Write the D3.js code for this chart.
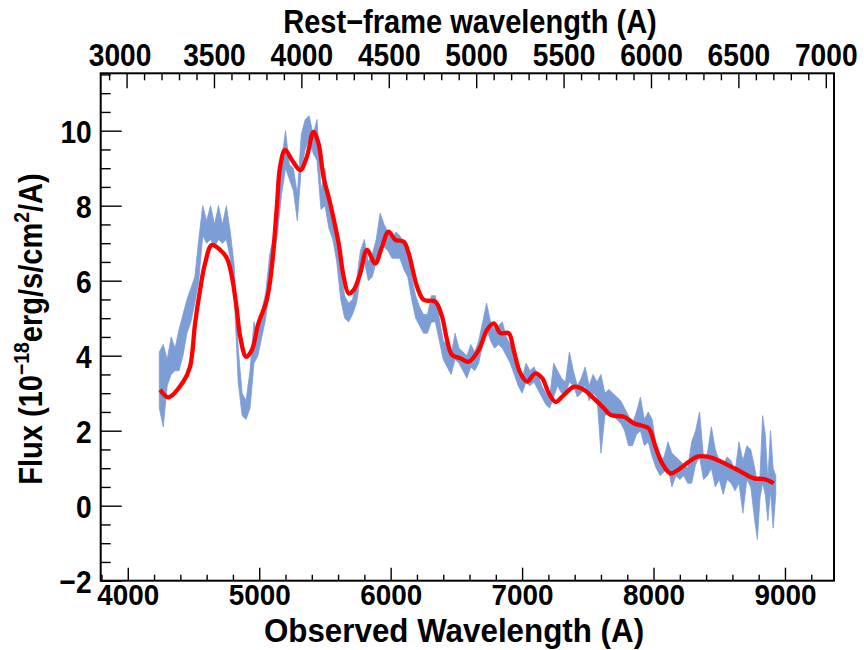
<!DOCTYPE html>
<html><head><meta charset="utf-8">
<script src="https://cdn.jsdelivr.net/npm/d3@7"></script>
<style>
html,body{margin:0;padding:0;background:#fff;}
text{font-family:"Liberation Sans",Arial,Helvetica,sans-serif;font-weight:bold;fill:#000;}
</style></head>
<body>
<svg id="c" width="864" height="650"></svg>
<script>
// ---- data ----
const xTitle = "Observed Wavelength (A)";
const topTitle = "Rest\u2212frame wavelength (A)";
const xTicks = [4000,5000,6000,7000,8000,9000];
const topTicks = [3000,3500,4000,4500,5000,5500,6000,6500,7000];
const yTicks = [-2,0,2,4,6,8,10];

// observed spectrum band (wavelength, lower edge, upper edge)
const bandWl = [4240,4270,4300,4330,4360,4390,4420,4450,4480,4510,4540,4570,4600,4630,4660,4690,4720,4750,4780,4810,4840,4870,4900,4930,4960,4990,5020,5050,5080,5110,5140,5170,5200,5230,5260,5290,5320,5350,5380,5410,5440,5470,5500,5530,5560,5590,5620,5650,5680,5710,5740,5770,5800,5830,5860,5890,5920,5950,5980,6010,6040,6070,6100,6130,6160,6190,6220,6250,6280,6310,6340,6370,6400,6430,6460,6490,6520,6550,6580,6610,6640,6670,6700,6730,6760,6790,6820,6850,6880,6910,6940,6970,7000,7030,7060,7090,7120,7150,7180,7210,7240,7270,7300,7330,7360,7390,7420,7450,7480,7510,7540,7570,7600,7630,7660,7690,7720,7750,7780,7810,7840,7870,7900,7930,7960,7990,8020,8050,8080,8110,8140,8170,8200,8230,8260,8290,8320,8350,8380,8410,8440,8470,8500,8530,8560,8590,8620,8650,8680,8710,8740,8770,8790,8810,8830,8850,8870,8890,8910,8930];
const bandHi = [4.1,4.3,3.9,4.5,4.2,4.7,5.1,5.5,5.8,6.1,7.1,8.0,7.6,8.0,7.5,8.0,7.5,8.0,7.3,6.4,4.2,3.0,2.8,3.6,4.9,4.5,5.2,5.7,6.7,7.2,8.4,9.2,10.0,9.1,9.0,8.3,9.9,10.3,10.4,9.9,10.3,8.4,9.0,8.0,7.8,7.2,6.2,5.6,5.4,5.5,6.0,6.8,7.1,6.5,6.7,7.1,7.8,7.5,7.3,7.1,7.3,7.2,7.0,6.8,6.1,5.6,5.3,5.1,5.1,5.6,5.6,5.0,4.4,4.3,4.0,4.6,4.2,4.1,4.0,4.3,4.1,4.4,4.9,5.4,4.9,4.7,4.8,4.9,4.5,4.3,3.9,3.5,3.4,3.8,3.6,3.7,3.5,3.2,3.0,2.9,3.8,3.6,3.4,3.3,4.1,3.6,3.2,3.4,3.7,3.2,3.5,3.3,3.5,3.0,3.1,3.0,2.9,2.8,2.6,2.4,2.2,2.5,2.9,2.3,2.5,2.3,1.6,1.2,1.3,1.7,1.4,1.3,1.2,1.1,1.0,1.7,2.0,2.5,1.3,1.4,2.1,1.5,1.2,1.1,1.3,1.2,0.9,1.7,1.2,1.6,1.5,1.0,0.6,0.8,2.4,1.9,0.7,2.0,1.0,0.8];
const bandLo = [2.6,2.1,3.2,3.5,3.6,3.6,4.0,4.6,4.9,5.4,6.0,7.2,7.0,7.1,6.9,7.1,7.0,7.1,6.6,5.6,3.3,2.4,2.3,2.6,3.8,4.0,4.5,5.0,5.8,6.5,7.3,8.3,9.0,8.7,8.4,7.6,9.0,9.5,9.8,9.4,9.2,7.9,8.0,7.4,7.1,6.5,5.5,5.0,4.9,5.1,5.4,6.1,6.5,6.0,6.1,6.5,7.0,6.9,6.8,6.6,6.6,6.6,6.3,6.1,5.5,5.0,4.8,4.6,4.6,4.9,4.9,4.4,3.9,3.7,3.5,3.9,3.8,3.6,3.4,3.7,3.6,3.8,4.3,4.7,4.4,4.2,4.3,4.2,4.0,3.8,3.5,3.2,3.0,3.3,3.2,3.3,3.1,2.9,2.7,2.6,2.9,3.2,3.0,3.0,3.3,3.2,2.9,3.0,3.2,2.8,3.0,2.9,1.4,2.4,2.5,2.4,2.3,2.2,2.0,1.6,1.6,1.9,2.0,1.6,1.7,1.3,1.0,0.8,0.9,1.0,0.5,0.8,0.7,0.8,0.6,0.6,1.1,1.3,0.7,0.8,1.0,0.5,0.7,0.3,0.7,0.6,0.4,0.6,-0.2,0.7,0.5,-0.4,-0.9,0.2,0.6,0.3,-0.4,0.4,-0.6,0.3];

// smoothed model (red)
const fitWl = [4246,4309,4423,4474,4512,4550,4588,4639,4702,4754,4792,4830,4855,4901,4944,4994,5058,5096,5134,5159,5197,5249,5312,5363,5413,5451,5489,5540,5604,5642,5680,5718,5769,5820,5883,5934,5984,6035,6099,6137,6201,6251,6340,6391,6429,6467,6530,6594,6670,6734,6784,6835,6898,6936,6987,7038,7101,7153,7203,7254,7317,7393,7470,7546,7622,7673,7774,7850,7914,7964,8015,8066,8129,8193,8269,8333,8409,8473,8562,8663,8764,8840,8916];
const fitFlux = [3.09,2.89,3.31,3.71,4.86,5.75,6.46,6.95,6.82,6.60,6.11,5.22,4.51,3.97,4.15,4.86,5.49,6.37,7.97,9.04,9.49,9.22,8.95,9.31,9.97,9.66,8.77,8.06,7.00,6.11,5.66,5.75,6.20,6.82,6.46,6.91,7.31,7.09,7.04,6.73,5.84,5.49,5.44,5.04,4.42,4.02,3.93,3.84,4.15,4.69,4.86,4.60,4.60,4.15,3.53,3.31,3.53,3.40,3.00,2.77,2.95,3.17,3.09,2.86,2.60,2.42,2.37,2.20,2.13,2.06,1.57,1.13,0.86,0.97,1.17,1.31,1.31,1.24,1.09,0.91,0.73,0.71,0.60];

// ---- drawing ----
const L=100.7,R=834,T=73.3,B=580.7;
const SX=0.88; // horizontal condensation of the bold sans text
const svg=d3.select("#c");
const x=d3.scaleLinear().domain([3794,9373]).range([L,R]);
const xTop=d3.scaleLinear().domain([2852,7047]).range([L,R]);
const y=d3.scaleLinear().domain([-2,11.53]).range([B,T]);

const band=bandWl.map((w,i)=>({w,lo:bandLo[i],hi:bandHi[i]}));
svg.append("path").datum(band)
  .attr("d",d3.area().x(d=>x(d.w)).y0(d=>y(d.lo)).y1(d=>y(d.hi)))
  .attr("fill","#7d9dd6").attr("stroke","#7d9dd6").attr("stroke-width",0.8);

const fit=fitWl.map((w,i)=>({w,f:fitFlux[i]}));
svg.append("path").datum(fit)
  .attr("d",d3.line().x(d=>x(d.w)).y(d=>y(d.f)).curve(d3.curveCatmullRom.alpha(0.5)))
  .attr("fill","none").attr("stroke","#ff0000").attr("stroke-width",4.3).attr("stroke-linejoin","round");

function style(g){g.select(".domain").remove();g.selectAll(".tick line").attr("stroke","#000").attr("stroke-width",1.4);}
const fmt=d=>d<0?"\u2212"+(-d):String(d);

// bottom axis
const xMinor=d3.range(3800,9400,200).filter(v=>v%1000!==0);
svg.append("g").attr("transform",`translate(0,${B})`)
  .call(d3.axisBottom(x).tickValues(xMinor).tickSize(-6).tickFormat("")).call(style);
const gx=svg.append("g").attr("transform",`translate(0,${B})`)
  .call(d3.axisBottom(x).tickValues(xTicks).tickSize(-13).tickPadding(3).tickFormat(fmt)).call(style);
gx.selectAll("text").attr("font-size",30).attr("dy","0.72em").attr("transform",`scale(0.93,1)`);

// top axis
const tMinor=d3.range(2900,7050,100).filter(v=>v%500!==0);
svg.append("g").attr("transform",`translate(0,${T})`)
  .call(d3.axisTop(xTop).tickValues(tMinor).tickSize(-7).tickFormat("")).call(style);
const gt=svg.append("g").attr("transform",`translate(0,${T})`)
  .call(d3.axisTop(xTop).tickValues(topTicks).tickSize(-15).tickPadding(7).tickFormat(fmt)).call(style);
gt.selectAll("text").attr("font-size",32).attr("dy","0em").attr("transform",`scale(${SX},1)`)
  .attr("x",d=>d===3000?-7/SX:0);

// left axis
const yMinor=d3.range(-1.5,11.6,0.5).filter(v=>Math.abs(v%2)>0.01);
svg.append("g").attr("transform",`translate(${L},0)`)
  .call(d3.axisLeft(y).tickValues(yMinor).tickSize(-10).tickFormat("")).call(style);
const gy=svg.append("g").attr("transform",`translate(${L},0)`)
  .call(d3.axisLeft(y).tickValues(yTicks).tickSize(-21).tickPadding(9).tickFormat(fmt)).call(style);
gy.selectAll("text").attr("font-size",32).attr("dy","0.36em").attr("transform",`scale(${SX},1)`).attr("x",-9/SX);

// frame
svg.append("rect").attr("x",L).attr("y",T).attr("width",R-L).attr("height",B-T)
  .attr("fill","none").attr("stroke","#000").attr("stroke-width",2);

// titles
svg.append("text").attr("transform",`translate(454,642) scale(0.95,1)`).attr("text-anchor","middle").attr("font-size",33).text(xTitle);
svg.append("text").attr("transform",`translate(470,33) scale(${SX},1)`).attr("text-anchor","middle").attr("font-size",33).text(topTitle);
const yt=svg.append("text").attr("transform",`translate(42,329) rotate(-90) scale(${SX},1)`).attr("text-anchor","middle").attr("font-size",33);
yt.append("tspan").text("Flux (10");
yt.append("tspan").attr("dy",-13).attr("font-size",22).text("\u221218");
yt.append("tspan").attr("dy",13).text("erg/s/cm");
yt.append("tspan").attr("dy",-13).attr("font-size",22).text("2");
yt.append("tspan").attr("dy",13).text("/A)");
</script>
</body></html>
